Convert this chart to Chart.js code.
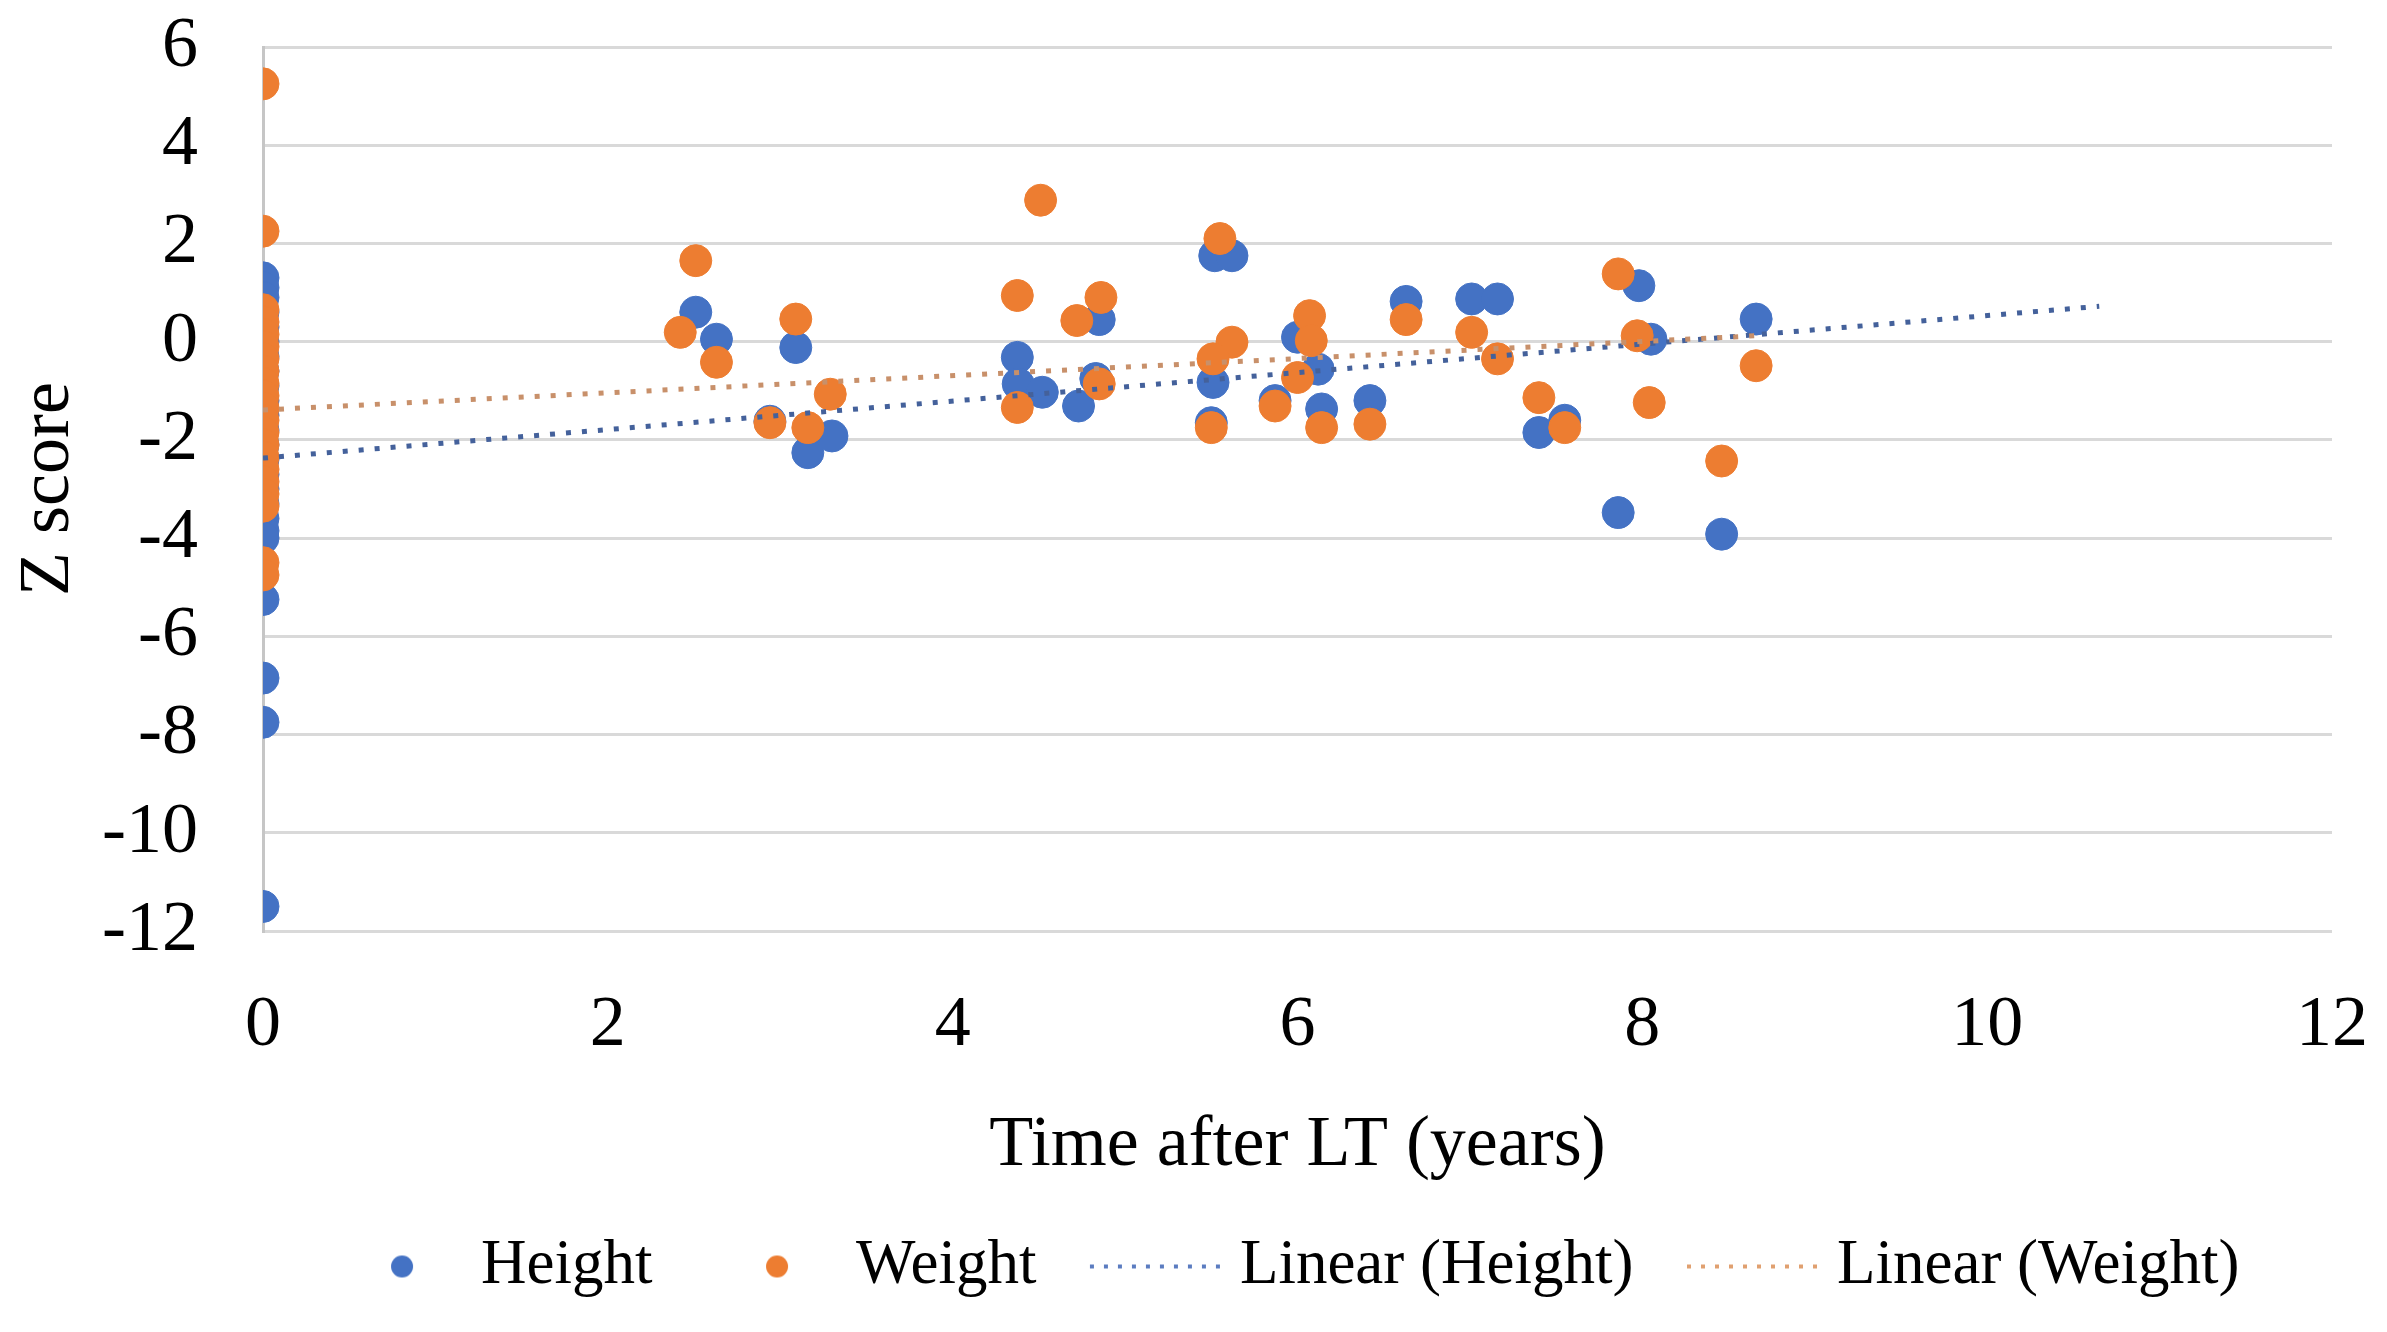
<!DOCTYPE html>
<html>
<head>
<meta charset="utf-8">
<script src="https://cdn.jsdelivr.net/npm/chart.js@4.4.1/dist/chart.umd.min.js"></script>
<style>
  html, body { margin: 0; padding: 0; background: #fff; }
  #wrap { width: 2387px; height: 1332px; }
</style>
</head>
<body>
<div id="wrap"><canvas id="zChart" width="2387" height="1332"></canvas></div>
<script>
// Height z scores (x = years after LT)
const heightTime = [
  0, 0, 0, 0, 0, 0, 0, 0, 0, 0, 0, 0, 0, 0, 0, 0, 0, 0, 0, 0, 0, 0, 0, 0,
  2.51, 2.63, 3.09, 2.94, 3.16, 3.30,
  4.375, 4.38, 4.52, 4.73, 4.85, 4.83,
  5.52, 5.62, 5.51, 5.50, 5.87, 6.00, 6.12, 6.14, 6.42, 6.63,
  7.01, 7.16, 7.40, 7.55,
  7.98, 8.05, 8.66, 7.86, 8.46
];
const heightZ = [
  1.3, 1.1, 0.9, 0.6, 0.3, 0.0, -0.3, -0.6, -0.9, -1.2, -1.5, -1.8, -2.1, -2.4, -2.7, -3.0, -3.3, -3.6, -3.85, -4.0, -5.25, -6.85, -7.75, -11.5,
  0.60, 0.05, -0.12, -1.62, -2.26, -1.92,
  -0.32, -0.86, -1.03, -1.31, 0.45, -0.75,
  1.75, 1.75, -0.83, -1.65, -1.2, 0.09, -0.56, -1.37, -1.2, 0.82,
  0.87, 0.87, -1.85, -1.6,
  1.14, 0.05, 0.46, -3.48, -3.92
];

// Weight z scores
const weightTime = [
  0, 0, 0, 0, 0, 0, 0, 0, 0, 0, 0, 0, 0, 0, 0, 0, 0, 0, 0, 0, 0,
  2.51, 2.42, 2.63, 3.09, 3.29, 2.94, 3.16,
  4.51, 4.375, 4.86, 4.72, 4.375, 4.85,
  5.55, 5.62, 5.51, 5.50, 5.87, 6.07, 6.08, 6.00, 6.14, 6.42, 6.63,
  7.01, 7.16, 7.40, 7.55,
  7.86, 7.97, 8.66, 8.04, 8.46
];
const weightZ = [
  5.25, 2.25, 0.65, 0.4, 0.15, -0.1, -0.35, -0.6, -0.85, -1.1, -1.35, -1.6, -1.85, -2.1, -2.35, -2.6, -2.85, -3.1, -3.35, -4.5, -4.75,
  1.65, 0.19, -0.42, 0.46, -1.07, -1.65, -1.75,
  2.88, 0.94, 0.90, 0.43, -1.34, -0.86,
  2.10, -0.01, -0.35, -1.75, -1.31, 0.53, 0.02, -0.73, -1.75, -1.68, 0.45,
  0.19, -0.35, -1.14, -1.75,
  1.38, 0.12, -0.49, -1.24, -2.43
];

// linear trendlines as drawn in the picture (start / end)
const trendHeightX = [0, 10.65];
const trendHeightY = [-2.37, 0.72];
const trendWeightX = [0, 8.66];
const trendWeightY = [-1.39, 0.12];

const seriesNames = ['Height', 'Weight', 'Linear (Height)', 'Linear (Weight)'];
const xTicks = [0, 2, 4, 6, 8, 10, 12];
const yTicks = [-12, -10, -8, -6, -4, -2, 0, 2, 4, 6];

const BLUE = '#4472C4';
const ORANGE = '#ED7D31';
const FONT = '"Liberation Serif", "Times New Roman", serif';

function toPoints(xs, ys) {
  return xs.map((x, i) => ({x: x, y: ys[i]}));
}

// legend icons (Excel style: dot or dotted line sample)
function dotIcon(color) {
  const c = document.createElement('canvas');
  c.width = 185; c.height = 26;
  const g = c.getContext('2d');
  g.fillStyle = color;
  g.beginPath();
  g.arc(124, 13, 11, 0, Math.PI * 2);
  g.fill();
  return c;
}
function lineIcon(color) {
  const c = document.createElement('canvas');
  c.width = 185; c.height = 26;
  const g = c.getContext('2d');
  g.strokeStyle = color;
  g.lineWidth = 4;
  g.setLineDash([4, 10]);
  g.beginPath();
  g.moveTo(53, 13);
  g.lineTo(185, 13);
  g.stroke();
  return c;
}
const legendIcons = [dotIcon(BLUE), dotIcon(ORANGE), lineIcon('#5b7cc0'), lineIcon('#e0a070')];

// nudge the legend a little left, like the Excel original
const legendShift = {
  id: 'legendShift',
  afterLayout(chart) {
    chart.legend.left -= 32;
    chart.legend.right -= 32;
  }
};

const ctx = document.getElementById('zChart').getContext('2d');
new Chart(ctx, {
  type: 'scatter',
  data: {
    datasets: [
      {
        label: seriesNames[0],
        data: toPoints(heightTime, heightZ),
        backgroundColor: BLUE,
        borderColor: BLUE,
        borderWidth: 1,
        pointRadius: 16,
        order: 4
      },
      {
        label: seriesNames[1],
        data: toPoints(weightTime, weightZ),
        backgroundColor: ORANGE,
        borderColor: ORANGE,
        borderWidth: 1,
        pointRadius: 16,
        order: 3
      },
      {
        label: seriesNames[2],
        data: toPoints(trendHeightX, trendHeightY),
        showLine: true,
        borderColor: '#44619b',
        borderWidth: 5,
        borderDash: [5, 11],
        pointRadius: 0,
        fill: false,
        order: 2
      },
      {
        label: seriesNames[3],
        data: toPoints(trendWeightX, trendWeightY),
        showLine: true,
        borderColor: '#c8906a',
        borderWidth: 5,
        borderDash: [5, 11],
        pointRadius: 0,
        fill: false,
        order: 1
      }
    ]
  },
  plugins: [legendShift],
  options: {
    responsive: false,
    devicePixelRatio: 1,
    animation: false,
    layout: { padding: { top: 47, right: 55, bottom: 24, left: 6 } },
    plugins: {
      tooltip: { enabled: false },
      legend: {
        position: 'bottom',
        fullSize: false,
        labels: {
          usePointStyle: true,
          pointStyleWidth: 158,
          padding: 14,
          color: '#000',
          font: { family: FONT, size: 63 },
          generateLabels(chart) {
            const items = Chart.defaults.plugins.legend.labels.generateLabels(chart);
            items.sort((a, b) => a.datasetIndex - b.datasetIndex);
            items.forEach(it => { it.pointStyle = legendIcons[it.datasetIndex]; });
            return items;
          }
        }
      }
    },
    scales: {
      x: {
        type: 'linear',
        min: 0,
        max: 12,
        afterBuildTicks(scale) { scale.ticks = xTicks.map(v => ({value: v})); },
        afterFit(scale) {
          scale.height = 290;
          scale.paddingLeft = 0;
          scale.paddingRight = 0;
        },
        grid: { display: false },
        border: { display: false },
        ticks: {
          padding: 44,
          color: '#000',
          font: { family: FONT, size: 72 }
        },
        title: {
          display: true,
          text: 'Time after LT (years)',
          color: '#000',
          font: { family: FONT, size: 72 },
          padding: { top: 0, bottom: 32 }
        }
      },
      y: {
        type: 'linear',
        min: -12,
        max: 6,
        afterBuildTicks(scale) { scale.ticks = yTicks.map(v => ({value: v})); },
        afterFit(scale) {
          scale.width = 257;
          scale.paddingTop = 0;
          scale.paddingBottom = 0;
        },
        grid: { color: '#d9d9d9', lineWidth: 3, drawTicks: false },
        border: { display: true, color: '#c6c6c6', width: 3 },
        ticks: {
          padding: 65,
          color: '#000',
          font: { family: FONT, size: 72 }
        },
        title: {
          display: true,
          text: 'Z score',
          color: '#000',
          font: { family: FONT, size: 72 },
          padding: { top: 0, bottom: 0 }
        }
      }
    }
  }
});
</script>
</body>
</html>
